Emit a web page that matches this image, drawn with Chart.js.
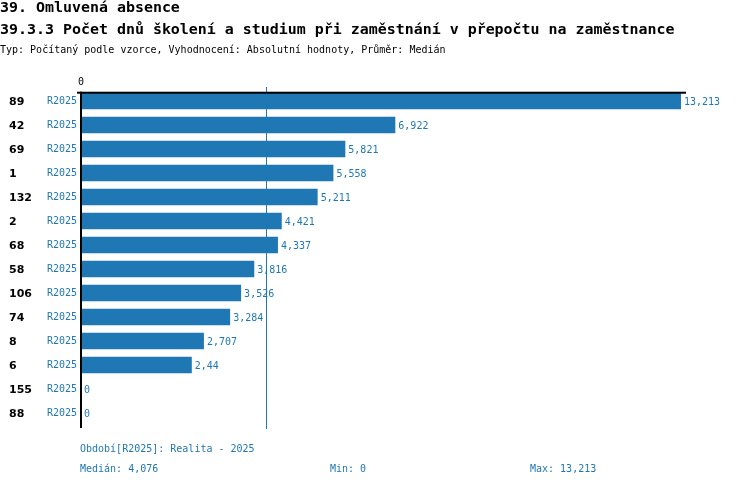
<!DOCTYPE html>
<html>
<head>
<meta charset="utf-8">
<script src="https://cdn.jsdelivr.net/npm/chart.js@4"></script>
<style>
  body { margin: 0; background: #fff; }
  #wrap { position: relative; width: 750px; height: 488px; }
  .t { position: absolute; left: 0; white-space: nowrap; font-family: "DejaVu Sans Mono", monospace; color: #000; }
  .h1 { font-size: 14.95px; font-weight: bold; }
  .h2 { font-size: 10px; }
  .f { position: absolute; white-space: nowrap; font-family: "DejaVu Sans Mono", monospace; font-size: 10px; color: #1f77b4; }
</style>
</head>
<body>
<div id="wrap">
  <canvas id="graf"></canvas>
  <div class="t h1" style="top:-2px">39. Omluvená absence</div>
  <div class="t h1" style="top:20px">39.3.3 Počet dnů školení a studium při zaměstnání v přepočtu na zaměstnance</div>
  <div class="t h2" style="top:44px">Typ: Počítaný podle vzorce, Vyhodnocení: Absolutní hodnoty, Průměr: Medián</div>
  <div class="f" id="obdobi" style="left:80px;top:443px"></div>
  <div class="f" id="median" style="left:80px;top:463px"></div>
  <div class="f" id="min" style="left:330px;top:463px"></div>
  <div class="f" id="max" style="left:530px;top:463px"></div>
</div>
<script>
// data z obrazku
var kategorie = ["89", "42", "69", "1", "132", "2", "68", "58", "106", "74", "8", "6", "155", "88"];
var hodnoty = [13.213, 6.922, 5.821, 5.558, 5.211, 4.421, 4.337, 3.816, 3.526, 3.284, 2.707, 2.44, 0, 0];
var obdobi = "R2025";
var obdobiPopis = "Realita - 2025";
var median = 4.076;
var minimum = 0;
var maximum = 13.213;

var modra = '#1f77b4';
var mono = '"DejaVu Sans Mono", monospace';

function cislo(v) {
    return String(v).replace('.', ',');
}

document.getElementById('obdobi').textContent = 'Období[' + obdobi + ']: ' + obdobiPopis;
document.getElementById('median').textContent = 'Medián: ' + cislo(median);
document.getElementById('min').textContent = 'Min: ' + cislo(minimum);
document.getElementById('max').textContent = 'Max: ' + cislo(maximum);

//--------------------------------------------cary, popisky
var doplnky = {
    id: 'doplnky',
    afterDatasetsDraw: function (chart) {
        var ctx = chart.ctx;
        var x = chart.scales.x;
        var y = chart.scales.y;
        var area = chart.chartArea;
        var bary = chart.getDatasetMeta(0).data;
        ctx.save();

        // median
        var mx = Math.round(x.getPixelForValue(median)) + 0.5;
        ctx.strokeStyle = modra;
        ctx.lineWidth = 1;
        ctx.beginPath();
        ctx.moveTo(mx, area.top - 2);
        ctx.lineTo(mx, area.bottom + 4);
        ctx.stroke();

        // osy
        var top = bary[0].y - bary[0].height / 2;
        ctx.fillStyle = '#000';
        ctx.fillRect(x.left - 4, top - 1, x.right - x.left + 4, 2);
        ctx.fillRect(x.left - 1, top - 1, 2, area.bottom + 4 - top);

        // hodnoty a kategorie
        ctx.textBaseline = 'middle';
        for (var i = 0; i < bary.length; i++) {
            var b = bary[i];
            ctx.fillStyle = modra;
            ctx.font = '10px ' + mono;
            ctx.textAlign = 'left';
            ctx.fillText(cislo(hodnoty[i]), b.x + 3, b.y + 1);
            ctx.fillStyle = '#000';
            ctx.font = 'bold 11px "DejaVu Sans", sans-serif';
            ctx.fillText(kategorie[i], 9, y.getPixelForValue(i) + 1);
        }
        ctx.restore();
    }
};

new Chart(document.getElementById('graf'), {
    type: 'bar',
    data: {
        labels: kategorie,
        datasets: [{
            label: obdobi,
            data: hodnoty,
            backgroundColor: modra,
            barPercentage: 0.69,
            categoryPercentage: 1
        }]
    },
    options: {
        indexAxis: 'y',
        responsive: true,
        maintainAspectRatio: false,
        animation: false,
        layout: { padding: { top: 0, left: 0, right: 64, bottom: 63 } },
        plugins: {
            legend: { display: false },
            tooltip: { enabled: false }
        },
        scales: {
            x: {
                position: 'top',
                min: 0,
                max: maximum * 605 / 600,
                afterFit: function (s) { s.height = 89; },
                afterBuildTicks: function (s) { s.ticks = [{ value: 0 }]; },
                grid: { display: false, drawTicks: false },
                border: { display: false },
                ticks: {
                    color: '#000',
                    font: { family: mono, size: 10 },
                    padding: 1,
                    callback: function (v) { return cislo(v); }
                }
            },
            y: {
                afterFit: function (s) { s.width = 81; },
                grid: { display: false, drawTicks: false },
                border: { display: false },
                ticks: {
                    color: modra,
                    font: { family: mono, size: 10 },
                    padding: 4,
                    callback: function () { return obdobi; }
                }
            }
        }
    },
    plugins: [doplnky]
});
</script>
</body>
</html>
